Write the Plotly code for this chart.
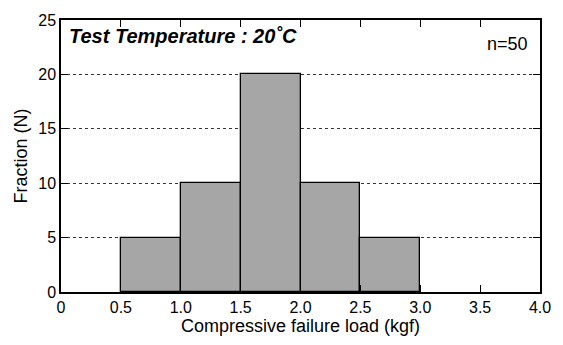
import plotly.graph_objects as go

bin_left = [0.5, 1.0, 1.5, 2.0, 2.5]
bin_width = 0.5
counts = [5, 10, 20, 10, 5]
x_ticks = [0, 0.5, 1.0, 1.5, 2.0, 2.5, 3.0, 3.5, 4.0]
x_tick_labels = ["0", "0.5", "1.0", "1.5", "2.0", "2.5", "3.0", "3.5", "4.0"]
y_ticks = [0, 5, 10, 15, 20, 25]

centers = [b + bin_width / 2 for b in bin_left]

fig = go.Figure()
fig.add_trace(go.Bar(
    x=centers, y=counts, width=bin_width,
    marker=dict(color="#a6a6a6", line=dict(color="black", width=1.3)),
    showlegend=False,
))

font_family = "Liberation Sans, Arial, sans-serif"
fig.update_layout(
    width=563, height=345,
    margin=dict(l=61, r=20, t=14, b=51),
    paper_bgcolor="white", plot_bgcolor="white",
    font=dict(family=font_family, color="black", size=16),
    bargap=0,
)
fig.update_xaxes(
    range=[0, 4.0], tickvals=x_ticks, ticktext=x_tick_labels,
    ticks="inside", ticklen=7, tickwidth=1.2, tickcolor="black",
    showline=True, linecolor="black", linewidth=1.5, mirror="ticks",
    showgrid=False, zeroline=False,
    title=dict(text="Compressive failure load (kgf)", font=dict(size=18), standoff=4),
    tickfont=dict(size=16),
)
fig.update_yaxes(
    range=[0, 25], tickvals=y_ticks,
    ticks="inside", ticklen=7, tickwidth=1.2, tickcolor="black",
    showline=True, linecolor="black", linewidth=1.5, mirror="ticks",
    showgrid=True, gridcolor="#333333", griddash="dot", gridwidth=0.8,
    zeroline=False,
    title=dict(text="Fraction (N)", font=dict(size=18), standoff=6),
    tickfont=dict(size=16),
)
fig.add_annotation(
    x=0.012, y=0.988, xref="paper", yref="paper", xanchor="left", yanchor="top",
    text="<b><i>Test Temperature : 20˚C</i></b>", showarrow=False,
    font=dict(size=20, family=font_family),
)
fig.add_annotation(
    x=0.98, y=0.955, xref="paper", yref="paper", xanchor="right", yanchor="top",
    text="n=50", showarrow=False, font=dict(size=18, family=font_family),
)
fig.write_html("out.html")
